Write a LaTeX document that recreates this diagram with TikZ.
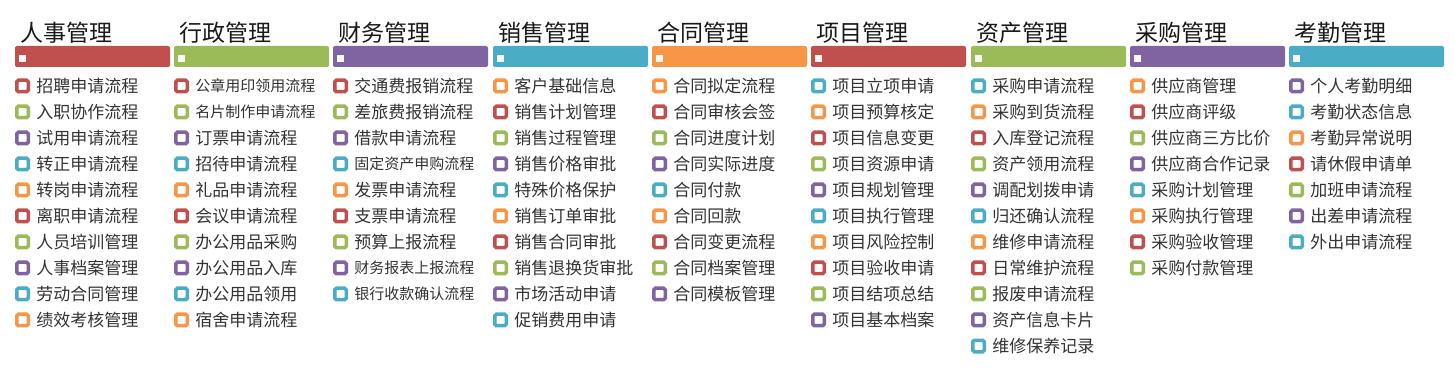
\documentclass[tikz,border=0pt]{standalone}
\usepackage{fontspec}
\setmainfont{Noto Sans CJK SC}
\usetikzlibrary{positioning}
\definecolor{cred}{HTML}{C0504D}
\definecolor{cgreen}{HTML}{9BBB59}
\definecolor{cpurple}{HTML}{8064A2}
\definecolor{ccyan}{HTML}{4BACC6}
\definecolor{corange}{HTML}{F79646}
\definecolor{ink}{HTML}{333333}
\tikzset{
  headbar/.style={rounded corners=1pt,minimum width=77.5pt,minimum height=10.5pt,
                  inner sep=0pt,outer sep=0pt},
  wdot/.style={fill=white!94!gray,minimum size=3.5pt,inner sep=0pt,outer sep=0pt},
  headtext/.style={font=\fontsize{11.5pt}{13pt}\selectfont,text=black!90,inner sep=0pt,
                   text height=9.66pt,text depth=0.92pt},
  chk/.style={fill=white,line width=1.75pt,rounded corners=0.8pt,minimum size=5.75pt,
              inner sep=0pt,outer sep=0pt},
  itemtext/.style={font=\fontsize{8.5pt}{10pt}\selectfont,text=ink,inner sep=0pt,
                   text height=7.14pt,text depth=0.68pt},
  smalltext/.style={itemtext,font=\fontsize{7.5pt}{9pt}\selectfont,
                    text height=6.3pt,text depth=0.6pt}
}
\newcommand{\colhead}[4]{\draw (#2,56.5) node[headbar,fill=#3,anchor=west] (#1) {};
                         \node[wdot,right=2pt of #1.west,yshift=-1.25pt] (#1d) {};
                         \node[headtext,anchor=west] (#1t) at (#2+5,32.5) {#4};
                        }
\newcommand{\entry}[6][itemtext]{\node[chk,draw=#5] (#2) at (#3+7.5,60+26*#4) {};
                                 \node[#1,right=3.9pt of #2] (#2t) {#6};
                                }

\begin{document}
\begin{tikzpicture}[x=0.5pt,y=-0.5pt]
 \useasboundingbox (0,0) rectangle (1454,373);

 % 人事管理
 \colhead{rs}{15}{cred}{人事管理}
 \entry{rs1}{15}{1}{cred}{招聘申请流程}
 \entry{rs2}{15}{2}{cgreen}{入职协作流程}
 \entry{rs3}{15}{3}{cpurple}{试用申请流程}
 \entry{rs4}{15}{4}{ccyan}{转正申请流程}
 \entry{rs5}{15}{5}{corange}{转岗申请流程}
 \entry{rs6}{15}{6}{cred}{离职申请流程}
 \entry{rs7}{15}{7}{cgreen}{人员培训管理}
 \entry{rs8}{15}{8}{cpurple}{人事档案管理}
 \entry{rs9}{15}{9}{ccyan}{劳动合同管理}
 \entry{rs10}{15}{10}{corange}{绩效考核管理}

 % 行政管理
 \colhead{xz}{174}{cgreen}{行政管理}
 \entry[smalltext]{xz1}{174}{1}{cred}{公章用印领用流程}
 \entry[smalltext]{xz2}{174}{2}{cgreen}{名片制作申请流程}
 \entry{xz3}{174}{3}{cpurple}{订票申请流程}
 \entry{xz4}{174}{4}{ccyan}{招待申请流程}
 \entry{xz5}{174}{5}{corange}{礼品申请流程}
 \entry{xz6}{174}{6}{cred}{会议申请流程}
 \entry{xz7}{174}{7}{cgreen}{办公用品采购}
 \entry{xz8}{174}{8}{cpurple}{办公用品入库}
 \entry{xz9}{174}{9}{ccyan}{办公用品领用}
 \entry{xz10}{174}{10}{corange}{宿舍申请流程}

 % 财务管理
 \colhead{cw}{333}{cpurple}{财务管理}
 \entry{cw1}{333}{1}{cred}{交通费报销流程}
 \entry{cw2}{333}{2}{cgreen}{差旅费报销流程}
 \entry{cw3}{333}{3}{cpurple}{借款申请流程}
 \entry[smalltext]{cw4}{333}{4}{ccyan}{固定资产申购流程}
 \entry{cw5}{333}{5}{corange}{发票申请流程}
 \entry{cw6}{333}{6}{cred}{支票申请流程}
 \entry{cw7}{333}{7}{cgreen}{预算上报流程}
 \entry[smalltext]{cw8}{333}{8}{cpurple}{财务报表上报流程}
 \entry[smalltext]{cw9}{333}{9}{ccyan}{银行收款确认流程}

 % 销售管理
 \colhead{xs}{493}{ccyan}{销售管理}
 \entry{xs1}{493}{1}{corange}{客户基础信息}
 \entry{xs2}{493}{2}{cred}{销售计划管理}
 \entry{xs3}{493}{3}{cgreen}{销售过程管理}
 \entry{xs4}{493}{4}{cpurple}{销售价格审批}
 \entry{xs5}{493}{5}{ccyan}{特殊价格保护}
 \entry{xs6}{493}{6}{corange}{销售订单审批}
 \entry{xs7}{493}{7}{cred}{销售合同审批}
 \entry{xs8}{493}{8}{cgreen}{销售退换货审批}
 \entry{xs9}{493}{9}{cpurple}{市场活动申请}
 \entry{xs10}{493}{10}{ccyan}{促销费用申请}

 % 合同管理
 \colhead{ht}{652}{corange}{合同管理}
 \entry{ht1}{652}{1}{corange}{合同拟定流程}
 \entry{ht2}{652}{2}{cred}{合同审核会签}
 \entry{ht3}{652}{3}{cgreen}{合同进度计划}
 \entry{ht4}{652}{4}{cpurple}{合同实际进度}
 \entry{ht5}{652}{5}{ccyan}{合同付款}
 \entry{ht6}{652}{6}{corange}{合同回款}
 \entry{ht7}{652}{7}{cred}{合同变更流程}
 \entry{ht8}{652}{8}{cgreen}{合同档案管理}
 \entry{ht9}{652}{9}{cpurple}{合同模板管理}

 % 项目管理
 \colhead{xm}{811}{cred}{项目管理}
 \entry{xm1}{811}{1}{ccyan}{项目立项申请}
 \entry{xm2}{811}{2}{corange}{项目预算核定}
 \entry{xm3}{811}{3}{cred}{项目信息变更}
 \entry{xm4}{811}{4}{cgreen}{项目资源申请}
 \entry{xm5}{811}{5}{cpurple}{项目规划管理}
 \entry{xm6}{811}{6}{ccyan}{项目执行管理}
 \entry{xm7}{811}{7}{corange}{项目风险控制}
 \entry{xm8}{811}{8}{cred}{项目验收申请}
 \entry{xm9}{811}{9}{cgreen}{项目结项总结}
 \entry{xm10}{811}{10}{cpurple}{项目基本档案}

 % 资产管理
 \colhead{zc}{971}{cgreen}{资产管理}
 \entry{zc1}{971}{1}{ccyan}{采购申请流程}
 \entry{zc2}{971}{2}{corange}{采购到货流程}
 \entry{zc3}{971}{3}{cred}{入库登记流程}
 \entry{zc4}{971}{4}{cgreen}{资产领用流程}
 \entry{zc5}{971}{5}{cpurple}{调配划拨申请}
 \entry{zc6}{971}{6}{ccyan}{归还确认流程}
 \entry{zc7}{971}{7}{corange}{维修申请流程}
 \entry{zc8}{971}{8}{cred}{日常维护流程}
 \entry{zc9}{971}{9}{cgreen}{报废申请流程}
 \entry{zc10}{971}{10}{cpurple}{资产信息卡片}
 \entry{zc11}{971}{11}{ccyan}{维修保养记录}

 % 采购管理
 \colhead{cg}{1130}{cpurple}{采购管理}
 \entry{cg1}{1130}{1}{corange}{供应商管理}
 \entry{cg2}{1130}{2}{cred}{供应商评级}
 \entry{cg3}{1130}{3}{cgreen}{供应商三方比价}
 \entry{cg4}{1130}{4}{cpurple}{供应商合作记录}
 \entry{cg5}{1130}{5}{ccyan}{采购计划管理}
 \entry{cg6}{1130}{6}{corange}{采购执行管理}
 \entry{cg7}{1130}{7}{cred}{采购验收管理}
 \entry{cg8}{1130}{8}{cgreen}{采购付款管理}

 % 考勤管理
 \colhead{kq}{1289}{ccyan}{考勤管理}
 \entry{kq1}{1289}{1}{cpurple}{个人考勤明细}
 \entry{kq2}{1289}{2}{ccyan}{考勤状态信息}
 \entry{kq3}{1289}{3}{corange}{考勤异常说明}
 \entry{kq4}{1289}{4}{cred}{请休假申请单}
 \entry{kq5}{1289}{5}{cgreen}{加班申请流程}
 \entry{kq6}{1289}{6}{cpurple}{出差申请流程}
 \entry{kq7}{1289}{7}{ccyan}{外出申请流程}

\end{tikzpicture}
\end{document}
